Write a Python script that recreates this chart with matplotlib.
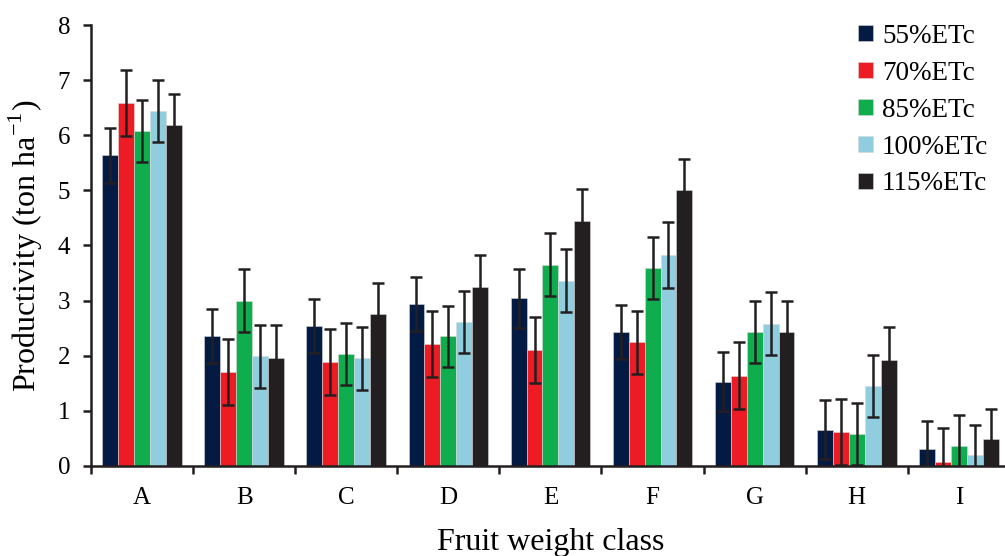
import matplotlib
matplotlib.use("Agg")
import matplotlib.pyplot as plt
import numpy as np

plt.rcParams['font.family'] = ['Liberation Serif', 'DejaVu Serif']
plt.rcParams['mathtext.fontset'] = 'custom'
plt.rcParams['mathtext.rm'] = 'Liberation Serif'

classes = ['A', 'B', 'C', 'D', 'E', 'F', 'G', 'H', 'I']
treatments = ['55%ETc', '70%ETc', '85%ETc', '100%ETc', '115%ETc']
colors = ['#031a42', '#ed1c24', '#10ad4e', '#8fcddf', '#231f20']

# mean productivity (ton/ha) per treatment, one value per class
etc55 = [5.64, 2.35, 2.54, 2.93, 3.04, 2.43, 1.53, 0.66, 0.30]
etc70 = [6.58, 1.71, 1.88, 2.21, 2.10, 2.24, 1.64, 0.62, 0.08]
etc85 = [6.08, 3.00, 2.03, 2.35, 3.65, 3.59, 2.43, 0.58, 0.37]
etc100 = [6.44, 1.99, 1.95, 2.61, 3.36, 3.83, 2.58, 1.45, 0.19]
etc115 = [6.18, 1.95, 2.75, 3.25, 4.45, 5.00, 2.43, 1.92, 0.48]

# error bar half-lengths
err55 = [0.50, 0.49, 0.49, 0.49, 0.53, 0.49, 0.53, 0.53, 0.52]
err70 = [0.60, 0.60, 0.60, 0.60, 0.60, 0.57, 0.60, 0.60, 0.60]
err85 = [0.56, 0.57, 0.56, 0.56, 0.57, 0.56, 0.56, 0.57, 0.56]
err100 = [0.57, 0.57, 0.57, 0.56, 0.57, 0.60, 0.57, 0.57, 0.56]
err115 = [0.57, 0.61, 0.57, 0.57, 0.57, 0.56, 0.56, 0.60, 0.56]

values = [etc55, etc70, etc85, etc100, etc115]
errors = [err55, err70, err85, err100, err115]

fig = plt.figure(figsize=(10.05, 5.56), dpi=100)
ax = fig.add_axes([0.0905, 0.162, 0.9144, 0.793])

x = np.arange(len(classes))
w = 0.156
for i, (vals, errs) in enumerate(zip(values, errors)):
    ax.bar(x + (i - 2) * w, vals, w, color=colors[i], label=treatments[i],
           edgecolor='#d8d8d8', linewidth=0.4,
           yerr=errs, capsize=4.4,
           error_kw=dict(ecolor='#231f20', elinewidth=1.8, capthick=1.8))

ax.set_xlim(-0.5, len(classes) - 0.5)
ax.set_ylim(0, 8)
ax.set_yticks(range(0, 9))
ax.set_xticks(x)
ax.set_xticklabels(classes)
ax.set_xticks(np.arange(len(classes)) - 0.5, minor=True)
ax.tick_params(axis='x', which='major', length=0, pad=15, labelsize=18)
ax.tick_params(axis='x', which='minor', length=6, width=1.8, color='#231f20')
ax.tick_params(axis='y', length=6, width=1.8, color='#231f20', labelsize=18, pad=9)

for s in ['top', 'right']:
    ax.spines[s].set_visible(False)
for s in ['left', 'bottom']:
    ax.spines[s].set_linewidth(1.8)
    ax.spines[s].set_color('#231f20')

ax.set_xlabel('Fruit weight class', fontsize=23, labelpad=14)
ax.set_ylabel('Productivity (ton ha$^{\\mathregular{-1}}$)', fontsize=23, labelpad=9)

ax.legend(loc='upper right', bbox_to_anchor=(1.003, 1.058), frameon=False,
          fontsize=19.5, handlelength=0.52, handleheight=0.52, handletextpad=0.35,
          labelspacing=0.44)

fig.savefig('out.png', dpi=100)
